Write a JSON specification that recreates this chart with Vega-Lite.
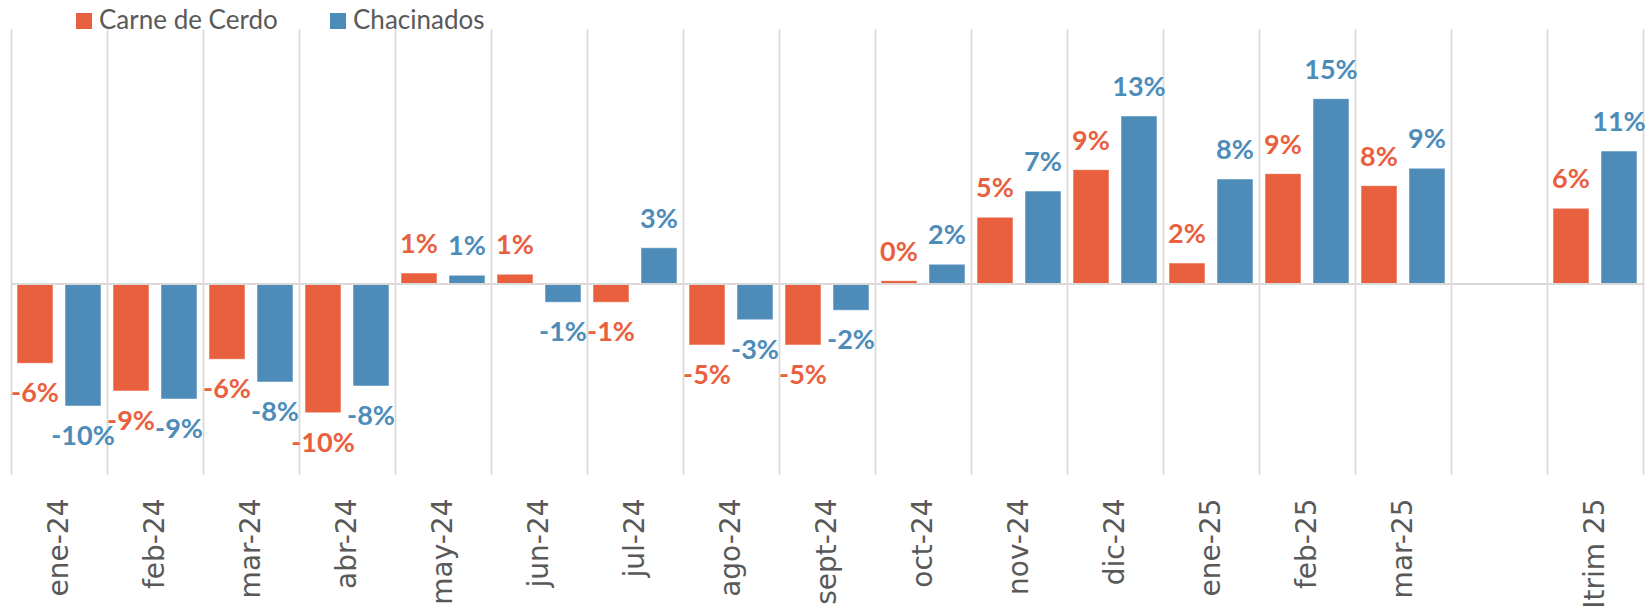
{
  "$schema": "https://vega.github.io/schema/vega-lite/v6.json",
  "width": 1632,
  "height": 445,
  "autosize": {"type": "none"},
  "padding": {"left": 11, "top": 29, "right": 2, "bottom": 136},
  "config": {
    "view": {"stroke": null},
    "locale": {"number": {"decimal": ".", "thousands": ",", "grouping": [3], "currency": ["$", ""], "minus": "-", "percent": "%"}}
  },
  "data": {
    "values": [
      {"m": "ene-24", "s": "Carne de Cerdo", "v": -0.0634},
      {"m": "ene-24", "s": "Chacinados", "v": -0.0976},
      {"m": "feb-24", "s": "Carne de Cerdo", "v": -0.0856},
      {"m": "feb-24", "s": "Chacinados", "v": -0.092},
      {"m": "mar-24", "s": "Carne de Cerdo", "v": -0.0602},
      {"m": "mar-24", "s": "Chacinados", "v": -0.0784},
      {"m": "abr-24", "s": "Carne de Cerdo", "v": -0.103},
      {"m": "abr-24", "s": "Chacinados", "v": -0.0816},
      {"m": "may-24", "s": "Carne de Cerdo", "v": 0.0088},
      {"m": "may-24", "s": "Chacinados", "v": 0.007},
      {"m": "jun-24", "s": "Carne de Cerdo", "v": 0.0078},
      {"m": "jun-24", "s": "Chacinados", "v": -0.0146},
      {"m": "jul-24", "s": "Carne de Cerdo", "v": -0.0146},
      {"m": "jul-24", "s": "Chacinados", "v": 0.029},
      {"m": "ago-24", "s": "Carne de Cerdo", "v": -0.0488},
      {"m": "ago-24", "s": "Chacinados", "v": -0.0286},
      {"m": "sept-24", "s": "Carne de Cerdo", "v": -0.0488},
      {"m": "sept-24", "s": "Chacinados", "v": -0.021},
      {"m": "oct-24", "s": "Carne de Cerdo", "v": 0.0027},
      {"m": "oct-24", "s": "Chacinados", "v": 0.0158},
      {"m": "nov-24", "s": "Carne de Cerdo", "v": 0.0534},
      {"m": "nov-24", "s": "Chacinados", "v": 0.0744},
      {"m": "dic-24", "s": "Carne de Cerdo", "v": 0.0915},
      {"m": "dic-24", "s": "Chacinados", "v": 0.1344},
      {"m": "ene-25", "s": "Carne de Cerdo", "v": 0.0168},
      {"m": "ene-25", "s": "Chacinados", "v": 0.084},
      {"m": "feb-25", "s": "Carne de Cerdo", "v": 0.0883},
      {"m": "feb-25", "s": "Chacinados", "v": 0.1483},
      {"m": "mar-25", "s": "Carne de Cerdo", "v": 0.0787},
      {"m": "mar-25", "s": "Chacinados", "v": 0.0926},
      {"m": "Itrim 25", "s": "Carne de Cerdo", "v": 0.0606},
      {"m": "Itrim 25", "s": "Chacinados", "v": 0.1064}
    ]
  },
  "encoding": {
    "x": {
      "field": "m",
      "type": "nominal",
      "sort": null,
      "title": null,
      "scale": {
        "domain": ["ene-24", "feb-24", "mar-24", "abr-24", "may-24", "jun-24", "jul-24", "ago-24", "sept-24", "oct-24", "nov-24", "dic-24", "ene-25", "feb-25", "mar-25", " ", "Itrim 25"],
        "paddingInner": 0,
        "paddingOuter": 0
      },
      "axis": {
        "labelAngle": -90,
        "labelFont": "DejaVu Sans",
        "labelFontSize": 28,
        "labelColor": "#595959",
        "labelPadding": 24,
        "domain": false,
        "ticks": false,
        "grid": true,
        "tickBand": "extent",
        "gridColor": "#d9d9d9",
        "gridWidth": 1.75
      }
    },
    "xOffset": {
      "field": "s",
      "type": "nominal",
      "scale": {"domain": ["Carne de Cerdo", "Chacinados"], "paddingInner": 0.25, "paddingOuter": 0.125}
    },
    "y": {
      "field": "v",
      "type": "quantitative",
      "scale": {"domain": [-0.152, 0.204], "nice": false, "zero": false},
      "axis": null
    }
  },
  "layer": [
    {
      "mark": {"type": "bar", "stroke": "#ffffff", "strokeOpacity": 0.5, "strokeWidth": 1},
      "encoding": {
        "color": {
          "field": "s",
          "type": "nominal",
          "scale": {"domain": ["Carne de Cerdo", "Chacinados"], "range": ["#E9603E", "#4D8CB9"]},
          "legend": {
            "orient": "none",
            "legendX": 60,
            "legendY": -21,
            "direction": "horizontal",
            "title": null,
            "symbolType": "square",
            "symbolSize": 256,
            "symbolStrokeWidth": 0,
            "symbolOpacity": 1,
            "labelFont": "Lato",
            "labelFontSize": 26,
            "labelColor": "#595959",
            "labelOffset": 2,
            "labelLimit": 500,
            "columnPadding": 47
          }
        }
      }
    },
    {
      "mark": {"type": "rule", "color": "#d9d9d9", "strokeWidth": 2},
      "encoding": {"x": {"value": 0}, "x2": {"value": 1632}, "xOffset": {"value": 0}, "y": {"datum": 0}}
    },
    {
      "transform": [{"filter": "datum.v >= 0"}],
      "mark": {"type": "text", "font": "Lato", "fontWeight": "bold", "fontSize": 27, "baseline": "middle", "align": "center", "dy": -28},
      "encoding": {
        "text": {"field": "v", "type": "quantitative", "format": ".0%"},
        "color": {"field": "s", "type": "nominal", "legend": null}
      }
    },
    {
      "transform": [{"filter": "datum.v < 0"}],
      "mark": {"type": "text", "font": "Lato", "fontWeight": "bold", "fontSize": 27, "baseline": "middle", "align": "center", "dy": 31},
      "encoding": {
        "text": {"field": "v", "type": "quantitative", "format": ".0%"},
        "color": {"field": "s", "type": "nominal", "legend": null}
      }
    }
  ]
}
